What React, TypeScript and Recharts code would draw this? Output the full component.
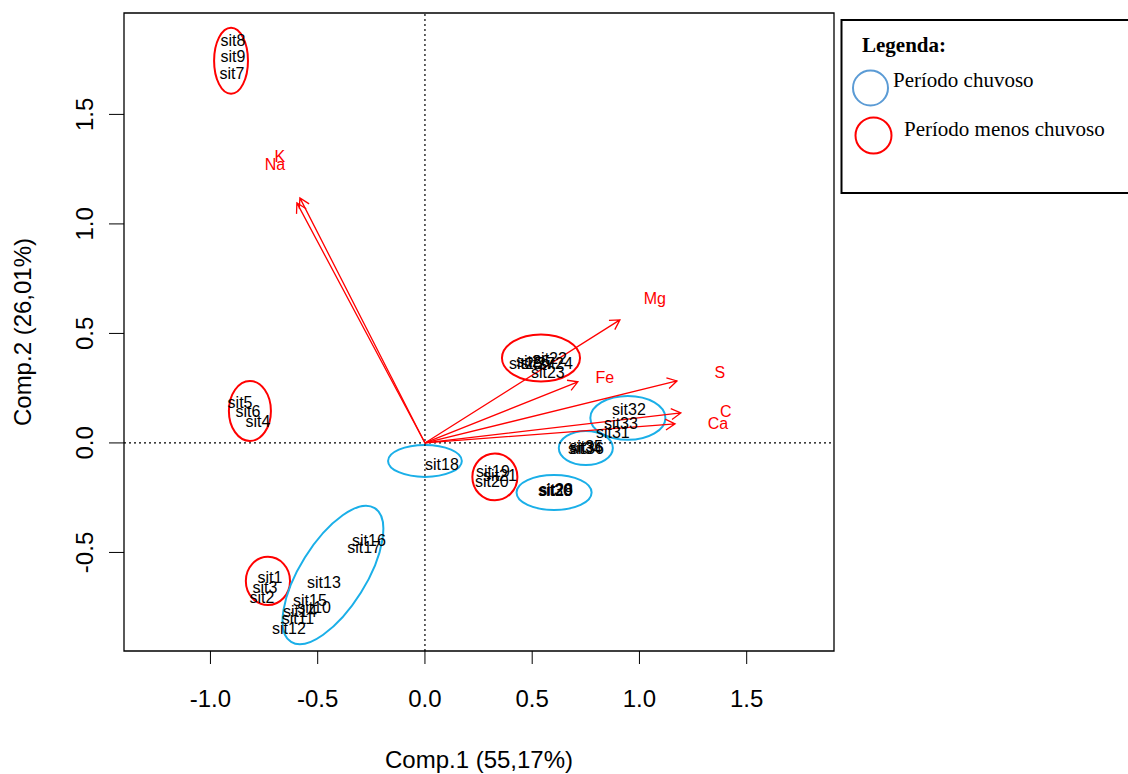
import React from 'react';
import {
  ScatterChart, Scatter, XAxis, YAxis, ReferenceLine, ReferenceArea,
} from 'recharts';

// PCA scores (Comp.1, Comp.2)
const sites = [
  { name: 'sit1', x: -0.723, y: -0.612 },
  { name: 'sit2', x: -0.760, y: -0.703 },
  { name: 'sit3', x: -0.746, y: -0.658 },
  { name: 'sit4', x: -0.779, y: 0.100 },
  { name: 'sit5', x: -0.862, y: 0.187 },
  { name: 'sit6', x: -0.825, y: 0.142 },
  { name: 'sit7', x: -0.900, y: 1.689 },
  { name: 'sit8', x: -0.895, y: 1.840 },
  { name: 'sit9', x: -0.895, y: 1.767 },
  { name: 'sit10', x: -0.517, y: -0.753 },
  { name: 'sit11', x: -0.592, y: -0.799 },
  { name: 'sit12', x: -0.634, y: -0.849 },
  { name: 'sit13', x: -0.471, y: -0.639 },
  { name: 'sit14', x: -0.583, y: -0.767 },
  { name: 'sit15', x: -0.536, y: -0.717 },
  { name: 'sit16', x: -0.261, y: -0.447 },
  { name: 'sit17', x: -0.284, y: -0.475 },
  { name: 'sit18', x: 0.079, y: -0.100 },
  { name: 'sit19', x: 0.317, y: -0.132 },
  { name: 'sit20', x: 0.312, y: -0.174 },
  { name: 'sit21', x: 0.350, y: -0.146 },
  { name: 'sit22', x: 0.583, y: 0.388 },
  { name: 'sit23', x: 0.573, y: 0.320 },
  { name: 'sit24', x: 0.611, y: 0.365 },
  { name: 'sit25', x: 0.471, y: 0.361 },
  { name: 'sit26', x: 0.503, y: 0.370 },
  { name: 'sit27', x: 0.527, y: 0.361 },
  { name: 'sit28', x: 0.611, y: -0.210 },
  { name: 'sit29', x: 0.611, y: -0.219 },
  { name: 'sit30', x: 0.606, y: -0.215 },
  { name: 'sit31', x: 0.876, y: 0.046 },
  { name: 'sit32', x: 0.951, y: 0.151 },
  { name: 'sit33', x: 0.914, y: 0.087 },
  { name: 'sit34', x: 0.746, y: -0.023 },
  { name: 'sit35', x: 0.751, y: -0.018 },
  { name: 'sit36', x: 0.755, y: -0.027 },
];

// variable loadings (arrow tips) and where their names sit
const loadings = [
  { name: 'K', x: -0.583, y: 1.119, lx: -0.676, ly: 1.306 },
  { name: 'Na', x: -0.597, y: 1.096, lx: -0.699, ly: 1.274 },
  { name: 'Mg', x: 0.909, y: 0.562, lx: 1.072, ly: 0.662 },
  { name: 'Fe', x: 0.713, y: 0.279, lx: 0.839, ly: 0.301 },
  { name: 'S', x: 1.175, y: 0.283, lx: 1.375, ly: 0.324 },
  { name: 'C', x: 1.193, y: 0.137, lx: 1.403, ly: 0.142 },
  { name: 'Ca', x: 1.166, y: 0.087, lx: 1.366, ly: 0.087 },
];
const loadingLabels = loadings.map((l) => ({ name: l.name, x: l.lx, y: l.ly }));

// group ellipses: centre, semi-axes (data units), tilt in degrees
const ellipses = [
  { cx: -0.904, cy: 1.745, rx: 0.079, ry: 0.151, tilt: 0, period: 'dry' },
  { cx: -0.816, cy: 0.146, rx: 0.098, ry: 0.137, tilt: 0, period: 'dry' },
  { cx: -0.732, cy: -0.630, rx: 0.103, ry: 0.110, tilt: 0, period: 'dry' },
  { cx: -0.429, cy: -0.603, rx: 0.368, ry: 0.151, tilt: 58, period: 'wet' },
  { cx: 0.0, cy: -0.082, rx: 0.172, ry: 0.073, tilt: 0, period: 'wet' },
  { cx: 0.326, cy: -0.155, rx: 0.105, ry: 0.107, tilt: 0, period: 'dry' },
  { cx: 0.602, cy: -0.226, rx: 0.175, ry: 0.080, tilt: 0, period: 'wet' },
  { cx: 0.750, cy: -0.023, rx: 0.126, ry: 0.078, tilt: 0, period: 'wet' },
  { cx: 0.946, cy: 0.114, rx: 0.175, ry: 0.100, tilt: 0, period: 'wet' },
  { cx: 0.541, cy: 0.388, rx: 0.182, ry: 0.107, tilt: 0, period: 'dry' },
];

const xTicks = [-1, -0.5, 0, 0.5, 1, 1.5];
const yTicks = [-0.5, 0, 0.5, 1, 1.5];
const xDomain = [-1.403, 1.907];
const yDomain = [-0.95, 1.963];

const SANS = '"Liberation Sans", Arial, sans-serif';
const SERIF = '"Liberation Serif", "Times New Roman", serif';
const RED = '#FF0000';
const BLUE = '#1AAFE8';

function SiteLabel(props: any) {
  const { cx, cy, payload } = props;
  return (
    <text x={cx} y={cy} dy="0.35em" textAnchor="middle" fontSize={16} fontFamily={SANS} fill="#000">
      {payload.name}
    </text>
  );
}

function VarLabel(props: any) {
  const { cx, cy, payload } = props;
  return (
    <text x={cx} y={cy} dy="0.35em" textAnchor="middle" fontSize={16} fontFamily={SANS} fill={RED}>
      {payload.name}
    </text>
  );
}

function Arrow(props: any) {
  const { x1, y1, x2, y2 } = props;
  const ang = Math.atan2(y2 - y1, x2 - x1);
  const len = 11;
  const a1 = ang + Math.PI - Math.PI / 6;
  const a2 = ang + Math.PI + Math.PI / 6;
  const h1x = x2 + len * Math.cos(a1);
  const h1y = y2 + len * Math.sin(a1);
  const h2x = x2 + len * Math.cos(a2);
  const h2y = y2 + len * Math.sin(a2);
  return (
    <path
      d={`M${x1},${y1}L${x2},${y2}M${h1x},${h1y}L${x2},${y2}L${h2x},${h2y}`}
      stroke={RED} strokeWidth={1.3} fill="none"
    />
  );
}

const makeEllipse = (color: string, tilt: number) => (props: any) => {
  const { x, y, width, height } = props;
  const cx = x + width / 2;
  const cy = y + height / 2;
  return (
    <ellipse
      cx={cx} cy={cy} rx={Math.abs(width) / 2} ry={Math.abs(height) / 2}
      transform={tilt ? `rotate(${-tilt} ${cx} ${cy})` : undefined}
      fill="none" stroke={color} strokeWidth={2}
    />
  );
};

function XTick(props: any) {
  const { x, y, payload } = props;
  return (
    <text x={x} y={y + 41} textAnchor="middle" fontSize={24} fontFamily={SANS} fill="#000">
      {payload.value.toFixed(1)}
    </text>
  );
}

function YTick(props: any) {
  const { x, y, payload } = props;
  const bx = x - 14;
  return (
    <text x={bx} y={y} transform={`rotate(-90 ${bx} ${y})`} textAnchor="middle" fontSize={24} fontFamily={SANS} fill="#000">
      {payload.value.toFixed(1)}
    </text>
  );
}

const xTitle = (props: any) => {
  const vb = props.viewBox;
  return (
    <text x={vb.x + vb.width / 2} y={vb.y + 117} textAnchor="middle" fontSize={24} fontFamily={SANS} fill="#000">
      Comp.1 (55,17%)
    </text>
  );
};

const yTitle = (props: any) => {
  const vb = props.viewBox;
  const bx = 31;
  const cy = vb.y + vb.height / 2;
  return (
    <text x={bx} y={cy} transform={`rotate(-90 ${bx} ${cy})`} textAnchor="middle" fontSize={24} fontFamily={SANS} fill="#000">
      Comp.2 (26,01%)
    </text>
  );
};

export default function App() {
  return (
    <div style={{ position: 'absolute', left: 0, top: 0, width: 1128, height: 774, background: '#fff' }}>
      <ScatterChart width={1128} height={774} margin={{ top: 13, right: 294, bottom: 63, left: 64 }}>
        <XAxis
          type="number" dataKey="x" domain={xDomain} ticks={xTicks} allowDataOverflow
          axisLine={false} tickLine={{ stroke: '#000' }} tickSize={13} tick={<XTick />}
          height={60} label={xTitle}
        />
        <YAxis
          type="number" dataKey="y" domain={yDomain} ticks={yTicks} allowDataOverflow
          axisLine={false} tickLine={{ stroke: '#000' }} tickSize={15} tick={<YTick />}
          width={60} label={yTitle}
        />
        <ReferenceArea
          x1={xDomain[0]} x2={xDomain[1]} y1={yDomain[0]} y2={yDomain[1]}
          fill="none" fillOpacity={0} stroke="#000" strokeWidth={1.3} ifOverflow="visible"
        />
        <ReferenceLine x={0} stroke="#000" strokeDasharray="2 3" strokeWidth={1.2} />
        <ReferenceLine y={0} stroke="#000" strokeDasharray="2 3" strokeWidth={1.2} />

        {loadings.map((l) => (
          <ReferenceLine
            key={l.name}
            segment={[{ x: 0, y: 0 }, { x: l.x, y: l.y }]}
            shape={Arrow}
            ifOverflow="visible"
          />
        ))}

        <Scatter data={sites} shape={SiteLabel} isAnimationActive={false} />
        <Scatter data={loadingLabels} shape={VarLabel} isAnimationActive={false} />

        {ellipses.map((e, i) => (
          <ReferenceArea
            key={i}
            x1={e.cx - e.rx} x2={e.cx + e.rx} y1={e.cy - e.ry} y2={e.cy + e.ry}
            ifOverflow="visible"
            shape={makeEllipse(e.period === 'dry' ? RED : BLUE, e.tilt)}
          />
        ))}
      </ScatterChart>

      <svg width={1128} height={774} style={{ position: 'absolute', left: 0, top: 0, pointerEvents: 'none' }}>
        <rect x={841.5} y={20} width={300} height={173} fill="#fff" stroke="#000" strokeWidth={2} />
        <text x={862} y={52} fontSize={21} fontWeight="bold" fontFamily={SERIF} fill="#000">Legenda:</text>
        <circle cx={870.5} cy={88} r={17.5} fill="none" stroke="#5B9BD5" strokeWidth={2} />
        <text x={893} y={87} fontSize={21} fontFamily={SERIF} fill="#000">Período chuvoso</text>
        <circle cx={873.5} cy={135.5} r={18} fill="none" stroke={RED} strokeWidth={2} />
        <text x={904} y={136} fontSize={21} fontFamily={SERIF} fill="#000">Período menos chuvoso</text>
      </svg>
    </div>
  );
}
